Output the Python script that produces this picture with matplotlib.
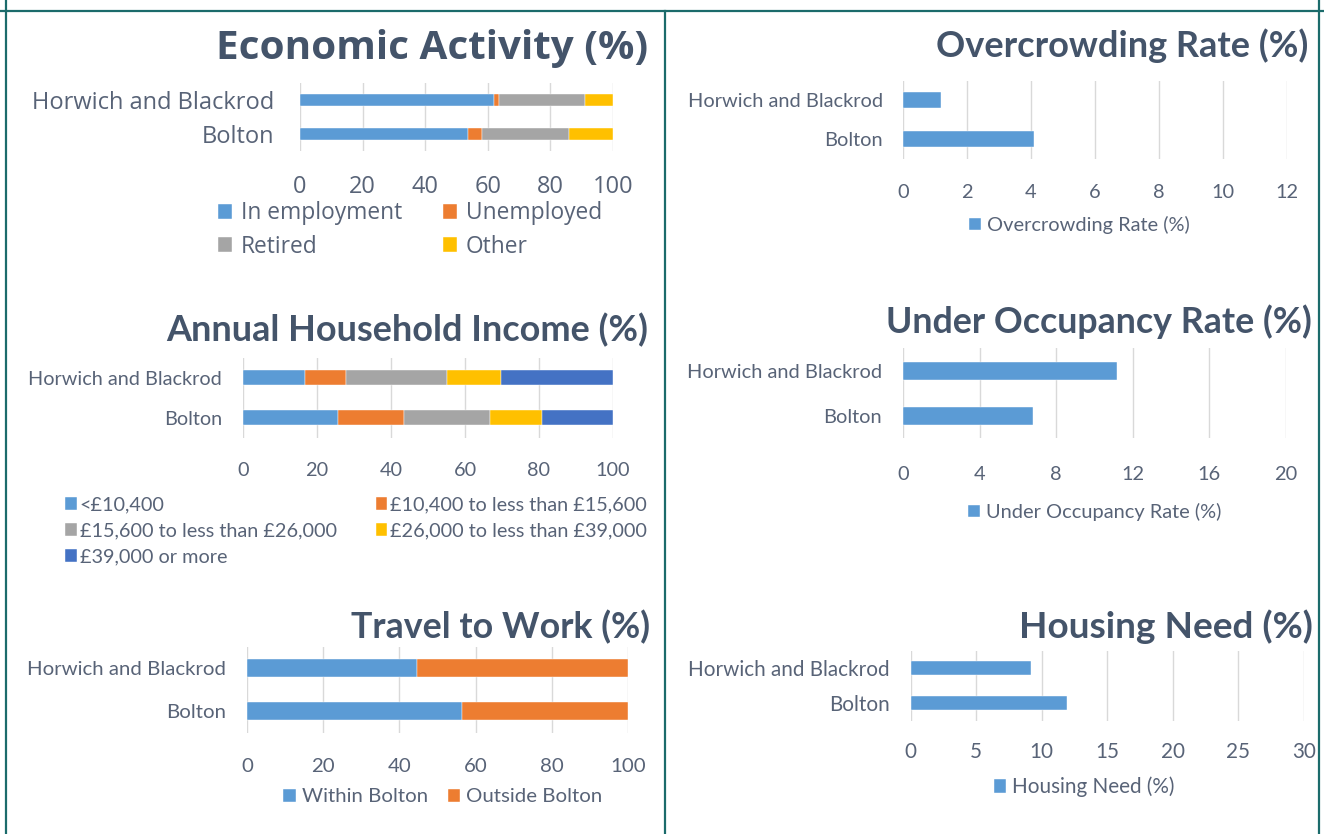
import matplotlib
matplotlib.use('Agg')
import matplotlib.pyplot as plt
from matplotlib.lines import Line2D

W, H = 1324, 834
DPI = 100

# ---------------- data ----------------
categories = ['Bolton', 'Horwich and Blackrod']  # bottom -> top

econ_labels = ['In employment', 'Unemployed', 'Retired', 'Other']
econ_employment = [53.6, 62.0]
econ_unemployed = [4.5, 1.7]
econ_retired = [27.7, 27.3]
econ_other = [14.2, 9.0]

income_labels = ['<£10,400', '£10,400 to less than £15,600',
                 '£15,600 to less than £26,000', '£26,000 to less than £39,000',
                 '£39,000 or more']
income_lt10400 = [25.6, 16.8]
income_10400_15600 = [18.0, 11.0]
income_15600_26000 = [23.2, 27.3]
income_26000_39000 = [13.9, 14.5]
income_39000_plus = [19.3, 30.4]

travel_labels = ['Within Bolton', 'Outside Bolton']
travel_within = [56.5, 44.6]
travel_outside = [43.5, 55.4]

overcrowding = [4.1, 1.2]
under_occupancy = [6.8, 11.2]
housing_need = [11.9, 9.2]

econ_ticks = [0, 20, 40, 60, 80, 100]
income_ticks = [0, 20, 40, 60, 80, 100]
travel_ticks = [0, 20, 40, 60, 80, 100]
overcrowding_ticks = [0, 2, 4, 6, 8, 10, 12]
under_ticks = [0, 4, 8, 12, 16, 20]
housing_ticks = [0, 5, 10, 15, 20, 25, 30]

# ---------------- style ----------------
BLUE, ORANGE, GRAY, YELLOW, DBLUE = '#5B9BD5', '#ED7D31', '#A5A5A5', '#FFC000', '#4472C4'
TITLE_C = '#44546A'
TEXT_C = '#586377'
GRID_C = '#D9D9D9'
FRAME_C = '#1B6B6B'

fig = plt.figure(figsize=(W / DPI, H / DPI), dpi=DPI)
renderer = fig.canvas.get_renderer()


def fit_size(text, family, weight, target_px):
    t = fig.text(0, 0, text, fontsize=10, family=family, weight=weight)
    w = t.get_window_extent(renderer).width
    t.remove()
    return 10 * target_px / w


def px_axes(x0, x1, y0, y1):
    return fig.add_axes([x0 / W, 1 - y1 / H, (x1 - x0) / W, (y1 - y0) / H])


def title(txt, right, yc, width, family):
    fs = fit_size(txt, family, 'bold', width)
    fig.text(right / W, 1 - yc / H, txt, ha='right', va='center', fontsize=fs,
             family=family, weight='bold', color=TITLE_C)


def setup(ax, xlim, ticks, fs, family, ypad_px, xpad_px):
    ax.set_xlim(*xlim)
    ax.set_ylim(-0.5, 1.5)
    ax.set_xticks(ticks)
    ax.set_xticklabels([str(t) for t in ticks])
    ax.set_yticks([0, 1])
    ax.set_yticklabels(categories)
    for s in ax.spines.values():
        s.set_visible(False)
    ax.tick_params(axis='both', length=0, labelcolor=TEXT_C, labelsize=fs)
    ax.tick_params(axis='y', pad=ypad_px * 0.72)
    ax.tick_params(axis='x', pad=xpad_px * 0.72)
    for lab in ax.get_xticklabels() + ax.get_yticklabels():
        lab.set_family(family)
    ax.grid(axis='x', color=GRID_C, lw=1.0)
    ax.set_axisbelow(True)
    ax.patch.set_alpha(0)


def stacked(ax, series, colors, labels, h):
    left = [0.0, 0.0]
    handles = []
    for vals, c, lab in zip(series, colors, labels):
        b = ax.barh([0, 1], vals, left=left, height=h, color=c,
                    edgecolor='white', linewidth=0.3, label=lab)
        handles.append(b)
        left = [l + v for l, v in zip(left, vals)]
    return handles


def legend(ax, handles, labels, fs, family, loc, xy, ncol=1, colsp=2.0, lsp=0.4,
           htp=0.3):
    ax.legend(handles, labels, loc=loc, bbox_to_anchor=(xy[0] / W, 1 - xy[1] / H),
              bbox_transform=fig.transFigure, ncol=ncol, frameon=False,
              borderpad=0, handlelength=0.6, handleheight=0.6, handletextpad=htp,
              columnspacing=colsp, labelspacing=lsp,
              prop={'family': family, 'size': fs}, labelcolor=TEXT_C)


F1 = 'Open Sans'
F2 = 'Lato'

# ---------- Economic Activity ----------
ax = px_axes(300, 613, 83, 151)
fs = fit_size('Horwich and Blackrod', F1, 'normal', 242)
setup(ax, (0, 100), econ_ticks, fs, F1, 26, 24)
hs = stacked(ax, [econ_employment, econ_unemployed, econ_retired, econ_other],
             [BLUE, ORANGE, GRAY, YELLOW], econ_labels, 0.38)
order = [0, 2, 1, 3]
legend(ax, [hs[i] for i in order], [econ_labels[i] for i in order], fs * 0.96, F1,
       'center left', (207, 230), ncol=2, colsp=1.8, lsp=0.4, htp=0.4)
title('Economic Activity (%)', 648, 48, 431, F1)

# ---------- Annual Household Income ----------
ax = px_axes(243, 613, 358, 438)
fs = fit_size('Horwich and Blackrod', F2, 'normal', 194)
setup(ax, (0, 100), income_ticks, fs, F2, 21, 24)
hs = stacked(ax, [income_lt10400, income_10400_15600, income_15600_26000,
                  income_26000_39000, income_39000_plus],
             [BLUE, ORANGE, GRAY, YELLOW, DBLUE], income_labels, 0.375)
order = [0, 2, 4, 1, 3]
legend(ax, [hs[i] for i in order], [income_labels[i] for i in order], fs, F2,
       'center left', (55, 531), ncol=2, colsp=1.95, lsp=0.45, htp=0.15)
title('Annual Household Income (%)', 648, 330, 483, F2)

# ---------- Travel to Work ----------
ax = px_axes(247, 628, 646.5, 732.5)
fs = fit_size('Horwich and Blackrod', F2, 'normal', 199)
setup(ax, (0, 100), travel_ticks, fs, F2, 21, 25)
hs = stacked(ax, [travel_within, travel_outside], [BLUE, ORANGE], travel_labels, 0.42)
legend(ax, hs, travel_labels, fs, F2, 'center', (443, 797), ncol=2, colsp=1.0)
title('Travel to Work (%)', 650, 627, 300, F2)

# ---------- Overcrowding Rate ----------
ax = px_axes(903, 1287, 80.5, 158.5)
fs = fit_size('Horwich and Blackrod', F2, 'normal', 196)
setup(ax, (0, 12), overcrowding_ticks, fs, F2, 20, 25)
b = ax.barh([0, 1], overcrowding, height=0.385, color=BLUE, edgecolor='white', linewidth=0.3)
legend(ax, [b], ['Overcrowding Rate (%)'], fs, F2, 'center', (1079, 225))
title('Overcrowding Rate (%)', 1308, 46, 373, F2)

# ---------- Under Occupancy Rate ----------
ax = px_axes(903, 1286, 348.5, 438.5)
fs = fit_size('Horwich and Blackrod', F2, 'normal', 196)
setup(ax, (0, 20), under_ticks, fs, F2, 21, 28)
b = ax.barh([0, 1], under_occupancy, height=0.39, color=BLUE, edgecolor='white', linewidth=0.3)
legend(ax, [b], ['Under Occupancy Rate (%)'], fs, F2, 'center', (1095, 512))
title('Under Occupancy Rate (%)', 1312, 322, 428, F2)

# ---------- Housing Need ----------
ax = px_axes(910.7, 1303.7, 650.5, 720.5)
fs = fit_size('Horwich and Blackrod', F2, 'normal', 202)
setup(ax, (0, 30), housing_ticks, fs, F2, 21, 22)
b = ax.barh([0, 1], housing_need, height=0.41, color=BLUE, edgecolor='white', linewidth=0.3)
legend(ax, [b], ['Housing Need (%)'], fs, F2, 'center', (1084, 787))
title('Housing Need (%)', 1313, 627, 295, F2)

# ---------- frame ----------
def fline(x0, y0, x1, y1):
    fig.add_artist(Line2D([x0 / W, x1 / W], [1 - y0 / H, 1 - y1 / H],
                          transform=fig.transFigure, color=FRAME_C, lw=1.6))

fline(0, 11, W, 11)
fline(6, 0, 6, H)
fline(1319, 0, 1319, H)
fline(664.5, 11, 664.5, H)

fig.savefig('out.png', dpi=DPI)
